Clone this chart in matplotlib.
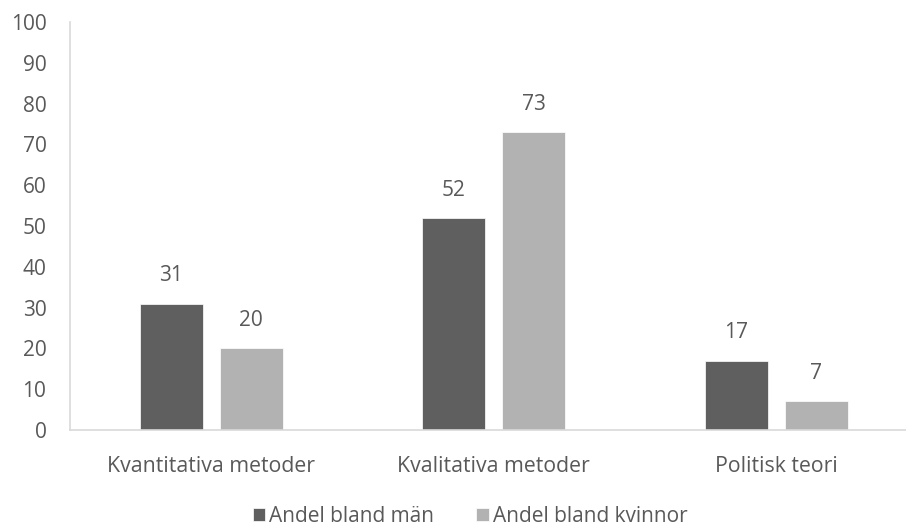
import matplotlib
matplotlib.use("Agg")
import matplotlib.pyplot as plt
import numpy as np

categories = ["Kvantitativa metoder", "Kvalitativa metoder", "Politisk teori"]
men = [31, 52, 17]
women = [20, 73, 7]
series_names = ["Andel bland män", "Andel bland kvinnor"]
yticks = list(range(0, 101, 10))

plt.rcParams["font.family"] = ["Open Sans", "DejaVu Sans"]
text_color = "#595959"
men_color = "#5f5f5f"
women_color = "#b2b2b2"

fig = plt.figure(figsize=(9.06, 5.26), dpi=100)
ax = fig.add_axes([70 / 906, 1 - 430 / 526, 847.5 / 906, 408 / 526])

x = np.arange(len(categories))
w = 0.223
gap = 0.06
off = (w + gap) / 2
b1 = ax.bar(x - off, men, w, color=men_color, label=series_names[0],
            edgecolor="white", linewidth=0.5)
b2 = ax.bar(x + off, women, w, color=women_color, label=series_names[1],
            edgecolor="white", linewidth=0.5)

for bars, vals in ((b1, men), (b2, women)):
    for bar, v in zip(bars, vals):
        ax.annotate(str(v), (bar.get_x() + bar.get_width() / 2, v),
                    xytext=(0, 20), textcoords="offset points",
                    ha="center", va="center", fontsize=15, color=text_color)

ax.set_xlim(-0.5, 2.5)
ax.set_ylim(0, 100)
ax.set_yticks(yticks)
ax.set_xticks(x)
ax.set_xticklabels(categories)
ax.tick_params(axis="both", length=0, labelcolor=text_color)
ax.tick_params(axis="x", pad=19, labelsize=15.3)
ax.tick_params(axis="y", pad=17, labelsize=15)
for s in ("top", "right"):
    ax.spines[s].set_visible(False)
for s in ("left", "bottom"):
    ax.spines[s].set_color("#d9d9d9")
    ax.spines[s].set_linewidth(1.2)

fig.legend(handles=[b1, b2], labels=series_names, loc="center",
           bbox_to_anchor=(470 / 906, 1 - 516 / 526), ncol=2, frameon=False,
           fontsize=15, labelcolor=text_color, handlelength=0.6,
           handleheight=0.6, handletextpad=0.2, columnspacing=2.0)

fig.savefig("out.png", dpi=100)
